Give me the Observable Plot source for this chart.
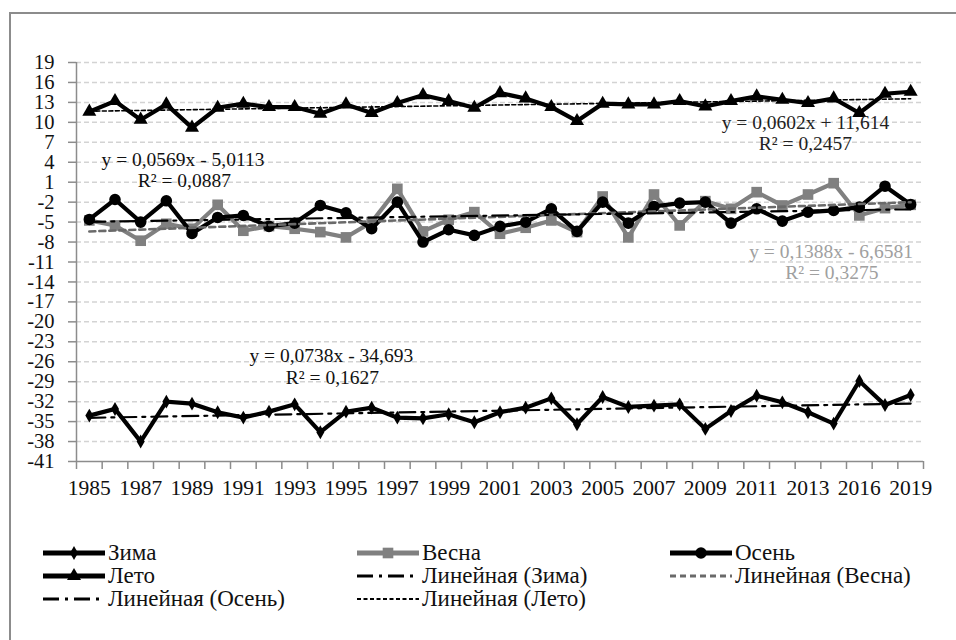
<!DOCTYPE html>
<html><head><meta charset="utf-8">
<script src="https://cdn.jsdelivr.net/npm/d3@7"></script>
<script src="https://cdn.jsdelivr.net/npm/@observablehq/plot@0.6"></script>
<style>
body{margin:0;background:#fff;}
#wrap{position:relative;width:956px;height:640px;overflow:hidden;font-family:"Liberation Serif","Times New Roman","DejaVu Serif",serif;background:#fff;}
#frame{position:absolute;left:9px;top:12px;width:1000px;height:700px;border-left:2px solid #8c8c8c;border-top:2px solid #8c8c8c;}
#chart{position:absolute;left:0;top:0;}
#chart svg, #chart svg text{font-family:"Liberation Serif","Times New Roman","DejaVu Serif",serif !important;}
#chart g[aria-label$="tick"] path{stroke:#8c8c8c;stroke-width:1.5;}
#chart g[aria-label="y-axis tick label"] text{font-size:20.5px;}
.leg{position:absolute;display:flex;align-items:center;font-size:23px;color:#111;white-space:nowrap;height:24px;}
.leg svg{margin-right:3px;}
</style></head>
<body><div id="wrap"><div id="frame"></div><div id="chart"></div><div id="legend"></div></div>
<script>
// ---- data ----
const years = [1985,1986,1987,1988,1989,1990,1991,1992,1993,1994,1995,1996,1997,1998,1999,2000,2001,2002,2003,2004,2005,2006,2007,2008,2009,2010,2011,2012,2013,2015,2016,2018,2019];
const winter = [-34.1,-33.1,-38.0,-32.0,-32.3,-33.6,-34.4,-33.5,-32.4,-36.6,-33.5,-32.9,-34.4,-34.5,-33.9,-35.1,-33.6,-32.9,-31.5,-35.4,-31.3,-32.8,-32.6,-32.4,-36.1,-33.4,-31.1,-32.1,-33.6,-35.3,-28.9,-32.5,-31.0];
const spring = [-4.75,-5.5,-7.8,-5.25,-6.0,-2.4,-6.3,-5.6,-6.0,-6.5,-7.3,-5.0,0.0,-6.4,-4.65,-3.5,-6.75,-5.85,-4.75,-6.5,-1.15,-7.3,-0.85,-5.5,-1.85,-3.0,-0.5,-2.5,-0.85,0.85,-4.0,-2.9,-2.4];
const autumn = [-4.6,-1.6,-5.0,-1.8,-6.7,-4.3,-4.0,-5.65,-5.15,-2.5,-3.6,-6.0,-2.0,-8.0,-6.15,-7.0,-5.65,-5.0,-3.0,-6.4,-2.0,-5.15,-2.65,-2.15,-2.0,-5.15,-3.0,-4.85,-3.5,-3.25,-2.75,0.4,-2.35];
const summer = [11.6,13.2,10.4,12.7,9.2,12.2,12.8,12.3,12.3,11.3,12.7,11.4,12.9,14.1,13.2,12.2,14.4,13.6,12.3,10.2,12.8,12.7,12.7,13.2,12.4,13.2,13.9,13.4,12.9,13.6,11.4,14.3,14.6];
const yTicks = [19,16,13,10,7,4,1,-2,-5,-8,-11,-14,-17,-20,-23,-26,-29,-32,-35,-38,-41];
const seriesNames = ["Зима","Весна","Осень","Лето"];
const trendNames = ["Линейная (Зима)","Линейная (Весна)","Линейная (Осень)","Линейная (Лето)"];
const eqLines = [
  ["y = 0,0738x - 34,693","R² = 0,1627"],
  ["y = 0,1388x - 6,6581","R² = 0,3275"],
  ["y = 0,0569x - 5,0113","R² = 0,0887"],
  ["y = 0,0602x + 11,614","R² = 0,2457"]
];

// ---- styles / layout ----
const FONT = '"Liberation Serif","Times New Roman","DejaVu Serif",serif';
const seriesValues = [winter, spring, autumn, summer];
const sStyle = [
  {color:"#000", symbol:"diamond", r:4.2},
  {color:"#808080", symbol:"square", r:6.0},
  {color:"#000", symbol:"circle", r:5.8},
  {color:"#000", symbol:"triangle", r:5.2}
];
const tStyle = [
  {color:"#000", w:2.2, dash:"16,6,3,6"},
  {color:"#6a6a6a", w:2.6, dash:"6,4"},
  {color:"#000", w:2.2, dash:"16,6,3,6"},
  {color:"#000", w:1.6, dash:"4,2.5"}
];
// equation label anchors (in x-index / y-value coordinates)
const eqPos = [
  [{x:9.43,y:-25.08},{x:9.47,y:-28.44}],
  [{x:28.9,y:-9.52},{x:28.93,y:-12.69}],
  [{x:3.65,y:4.39},{x:3.7,y:1.27}],
  [{x:27.9,y:10.0},{x:27.9,y:6.85}]
];
const eqColor = ["#111","#a0a0a0","#111","#222"];

const tables = seriesValues.map((vals, s) => years.map((year, i) => ({i, year, value: vals[i], series: seriesNames[s]})));
const labelRows = years.map((year, i) => ({i, year})).filter(d => d.i % 2 === 0);
const boundaries = [-0.5, ...years.map((y, i) => i + 0.5)];

const marks = [
  Plot.ruleY(yTicks.filter(v => v !== -41), {stroke:"#d3d3d3", strokeWidth:1.5, strokeDasharray:"5,3"}),
  Plot.ruleX([-0.5], {stroke:"#8c8c8c", strokeWidth:1.5}),
  Plot.ruleY([-41], {stroke:"#8c8c8c", strokeWidth:1.5}),
  Plot.text(labelRows, {x:"i", frameAnchor:"bottom", dy:27, text: d => String(d.year), fontSize:21.5, fill:"#111", lineAnchor:"middle", fontFamily: FONT})
];
tables.forEach((t, s) => {
  const st = sStyle[s];
  marks.push(Plot.line(t, {x:"i", y:"value", stroke:st.color, strokeWidth:4.2, strokeLinejoin:"miter", strokeMiterlimit:3}));
  marks.push(Plot.dot(t, {x:"i", y:"value", symbol:() => st.symbol, r:st.r, fill:st.color, stroke:"none"}));
});
tables.forEach((t, s) => {
  const ts = tStyle[s];
  marks.push(Plot.linearRegressionY(t, {x:"i", y:"value", stroke:ts.color, strokeWidth:ts.w, strokeDasharray:ts.dash, ci:0}));
});
eqLines.forEach((lines, s) => {
  lines.forEach((txt, k) => {
    marks.push(Plot.text([eqPos[s][k]], {x:"x", y:"y", text:() => txt, fill:eqColor[s], fontSize:19.5, textAnchor:"middle", lineAnchor:"middle", fontFamily: FONT}));
  });
});

const chart = Plot.plot({
  width: 956, height: 530,
  marginLeft: 76, marginRight: 33, marginTop: 62, marginBottom: 69,
  x: {type:"linear", domain:[-0.5, 32.5], ticks: boundaries, tickSize: 8, tickFormat: () => "", label: null},
  y: {type:"linear", domain:[-41, 19], ticks: yTicks, tickSize: 8, tickPadding: 14, tickFormat: d => String(d), label: null},
  style: {fontFamily: FONT, fontSize:"21px", color:"#111", background:"transparent", overflow:"visible"},
  marks
});
document.getElementById("chart").appendChild(chart);

// ---- legend ----
function seriesIcon(s) {
  const st = sStyle[s];
  const sym = d3.symbol().type({diamond:d3.symbolDiamond, square:d3.symbolSquare, circle:d3.symbolCircle, triangle:d3.symbolTriangle}[st.symbol]).size(Math.PI*st.r*st.r)();
  return `<svg width="62" height="20"><line x1="0" x2="62" y1="10" y2="10" stroke="${st.color}" stroke-width="5"/><path transform="translate(31,10)" d="${sym}" fill="${st.color}"/></svg>`;
}
function trendIcon(s) {
  const ts = tStyle[s];
  return `<svg width="62" height="20"><line x1="0" x2="62" y1="10" y2="10" stroke="${ts.color}" stroke-width="${ts.w+0.6}" stroke-dasharray="${ts.dash}"/></svg>`;
}
const legendItems = [
  ...seriesNames.map((n, s) => ({name:n, icon:seriesIcon(s)})),
  ...trendNames.map((n, s) => ({name:n, icon:trendIcon(s)}))
];
const colLeft = [43, 357, 670];
const rowTop = [541, 564, 587];
const leg = document.getElementById("legend");
legendItems.forEach((it, k) => {
  const div = document.createElement("div");
  div.className = "leg";
  div.style.left = colLeft[k % 3] + "px";
  div.style.top = rowTop[Math.floor(k / 3)] + "px";
  div.innerHTML = it.icon + `<span>${it.name}</span>`;
  leg.appendChild(div);
});
</script>
</body></html>
